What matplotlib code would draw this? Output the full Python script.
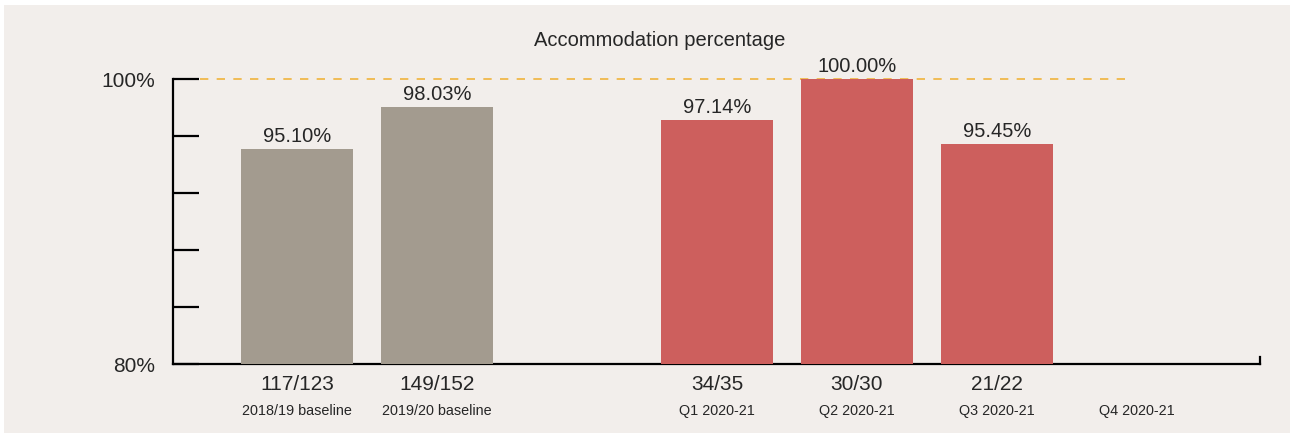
import matplotlib
matplotlib.use("Agg")
import matplotlib.pyplot as plt
from matplotlib.patches import Rectangle
from matplotlib.transforms import blended_transform_factory

plt.rcParams['font.family'] = ['Liberation Sans', 'DejaVu Sans']

# data
positions = [0, 1, 3, 4, 5, 6]
values = [95.10, 98.03, 97.14, 100.00, 95.45, None]
counts = ["117/123", "149/152", "34/35", "30/30", "21/22", ""]
periods = ["2018/19 baseline", "2019/20 baseline", "Q1 2020-21", "Q2 2020-21",
           "Q3 2020-21", "Q4 2020-21"]
colors = ["#a39b8f", "#a39b8f", "#cd5f5d", "#cd5f5d", "#cd5f5d", "#cd5f5d"]
target = 100

bg = "#f2eeeb"
txt = "#262626"

fig = plt.figure(figsize=(12.9, 4.35), dpi=100, facecolor="white")
fig.patches.append(Rectangle((4 / 1290, 1 / 435), 1 - 4 / 1290, 1 - 7 / 435,
                             transform=fig.transFigure, facecolor=bg,
                             edgecolor="none", zorder=-10))
ax = fig.add_axes([173 / 1290, 70 / 435, (1260 - 173) / 1290, (363 - 78) / 435])
ax.set_facecolor(bg)
ax.patch.set_alpha(0)

base = 80
for p, v, c in zip(positions, values, colors):
    if v is None:
        continue
    ax.bar(p, v - base, bottom=base, width=0.8, color=c, zorder=3)
    ax.annotate(f"{v:.2f}%", (p, v), xytext=(0, 3), textcoords="offset points",
                ha="center", va="bottom", fontsize=14.5, color=txt,
                annotation_clip=False)

ax.plot([-0.69, 5.93], [target, target], ls=(0, (5, 5)), color="#f0b43c",
        lw=1.2, zorder=2, clip_on=False)

ax.set_xlim(-0.886, 6.88)
ax.set_ylim(80, 100)

tr = blended_transform_factory(ax.transData, ax.transAxes)
for p, cnt, per in zip(positions, counts, periods):
    ax.text(p, -0.07, cnt, transform=tr, ha="center", va="center",
            fontsize=15, color=txt)
    ax.text(p, -0.163, per, transform=tr, ha="center", va="center",
            fontsize=10.4, color=txt)

ax.set_xticks([])
ax.set_yticks([80, 84, 88, 92, 96, 100])
ax.set_yticklabels(["80%", "", "", "", "", "100%"], fontsize=15, color=txt)
ax.tick_params(axis="y", direction="in", length=19, width=1.6, pad=13,
               color="black")

for s in ["top", "right"]:
    ax.spines[s].set_visible(False)
for s in ["left", "bottom"]:
    ax.spines[s].set_linewidth(1.6)
    ax.spines[s].set_color("black")
ax.axvline(6.88, ymin=0, ymax=0.025, color="black", lw=1.6, clip_on=False)

fig.text(660 / 1290, 1 - 41 / 435, "Accommodation percentage", ha="center",
         va="center", fontsize=14.5, color=txt)

fig.savefig("out.png", dpi=100, facecolor="white")
